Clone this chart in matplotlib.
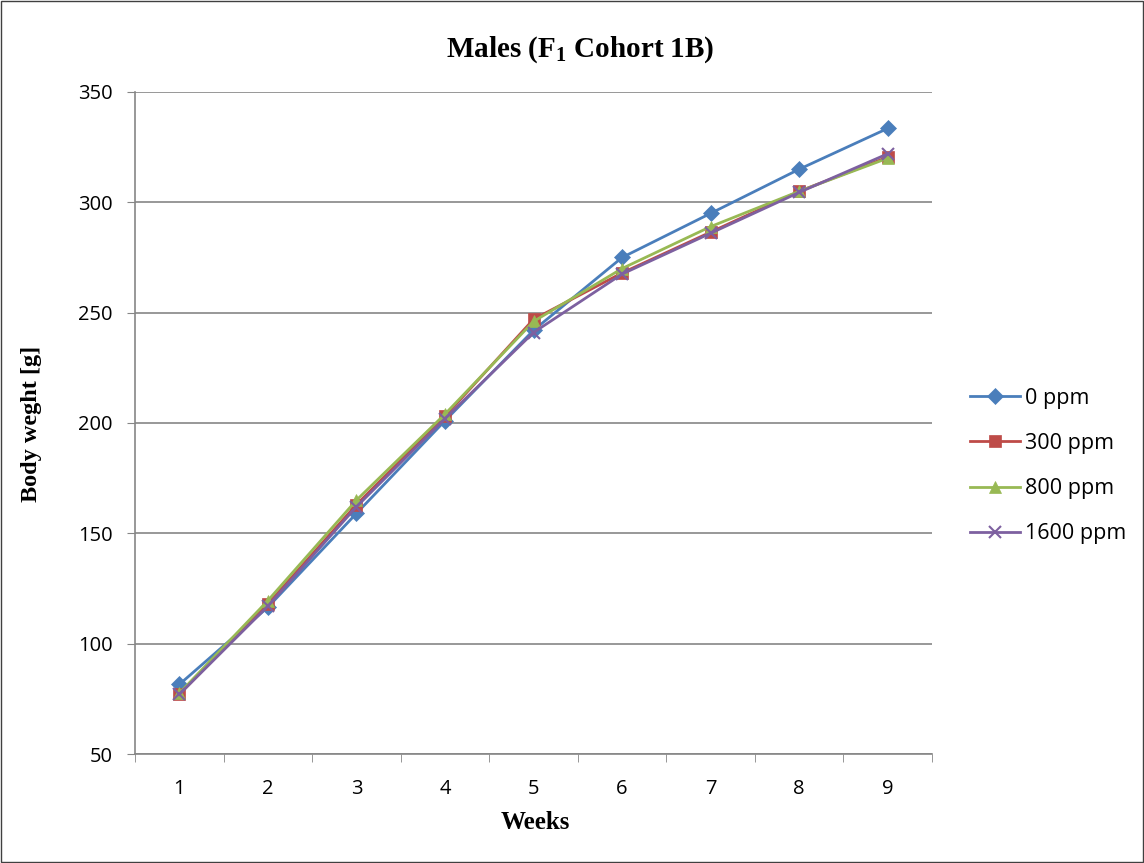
import numpy as np
import matplotlib.pyplot as plt
from matplotlib.ticker import FixedLocator

plt.rcParams['mathtext.fontset'] = 'custom'
plt.rcParams['mathtext.rm'] = 'Liberation Serif'
plt.rcParams['mathtext.bf'] = 'Liberation Serif:bold'

weeks = [1, 2, 3, 4, 5, 6, 7, 8, 9]
ppm_0 = [81.5, 116.5, 159, 201, 242, 275, 295, 315, 333.5]
ppm_300 = [77, 118, 163, 203, 247, 268, 286.5, 305, 320.5]
ppm_800 = [77.5, 119.5, 165, 204, 246, 270, 289, 305, 320]
ppm_1600 = [77, 117, 162, 202, 241, 267.5, 286, 304.5, 322]

labels = ['0 ppm', '300 ppm', '800 ppm', '1600 ppm']
colors = ['#4A7EBB', '#BE4B48', '#98B954', '#7D60A0']
markers = ['D', 's', '^', 'x']

W, H = 1144, 863
fig = plt.figure(figsize=(W / 100, H / 100), dpi=100)
ax = fig.add_axes([135 / W, 1 - 754 / H, (932 - 135) / W, (754 - 92) / H])

series = [ppm_0, ppm_300, ppm_800, ppm_1600]
for y, lab, c, m in zip(series, labels, colors, markers):
    ax.plot(weeks, y, color=c, marker=m, markersize=8, linewidth=2, label=lab,
            markeredgewidth=1.5 if m == 'x' else 0.5, markeredgecolor=c)

ax.set_xlim(0.5, 9.5)
ax.set_ylim(50, 350)
ax.set_yticks(np.arange(50, 351, 50))
ax.set_xticks(weeks)
ax.xaxis.set_minor_locator(FixedLocator(np.arange(0.5, 9.6, 1)))
ax.tick_params(axis='x', which='major', length=0, pad=18)
ax.tick_params(axis='x', which='minor', length=6, color='#868686', direction='out')
ax.tick_params(axis='y', length=6, color='#868686', direction='out', pad=10)
for lab in ax.get_xticklabels() + ax.get_yticklabels():
    lab.set_fontfamily('Open Sans')
    lab.set_fontsize(14.5)

ax.grid(axis='y', color='#868686', linewidth=1.2)
ax.set_axisbelow(True)
for side in ['top', 'right']:
    ax.spines[side].set_visible(False)
for side in ['left', 'bottom']:
    ax.spines[side].set_color('#868686')
    ax.spines[side].set_linewidth(1.2)

fig.text(580 / W, 1 - 50 / H, r'Males (F$_\mathbf{1}$ Cohort 1B)', ha='center', va='center',
         fontfamily='Liberation Serif', fontweight='bold', fontsize=21)
fig.text(535 / W, 1 - 822 / H, 'Weeks', ha='center', va='center',
         fontfamily='Liberation Serif', fontweight='bold', fontsize=18)
fig.text(32 / W, 1 - 424 / H, 'Body weght [g]', ha='center', va='center', rotation=90,
         fontfamily='Liberation Serif', fontweight='bold', fontsize=17.5)

leg = ax.legend(loc='center left', bbox_to_anchor=(970 / W, 1 - 466 / H),
                bbox_transform=fig.transFigure, frameon=False, borderaxespad=0, borderpad=0,
                prop={'family': 'Open Sans', 'size': 15.5}, handlelength=2.3,
                handletextpad=0.25, labelspacing=1.12)

fig.patches.append(plt.Rectangle((0.001, 0.001), 0.998, 0.998, transform=fig.transFigure,
                                 fill=False, edgecolor='#404040', linewidth=1))

fig.savefig('out.png', dpi=100)
